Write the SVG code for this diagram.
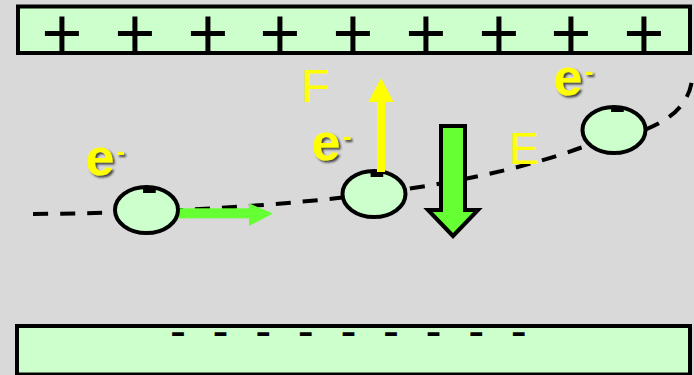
<svg xmlns="http://www.w3.org/2000/svg" width="694" height="375" viewBox="0 0 694 375">
<defs>
<style>
.plate{fill:#ccffcc;stroke:#000;stroke-width:4}
.plus{font-family:"Liberation Sans",Arial,sans-serif;font-size:70px;fill:#000;text-anchor:middle}
.minus{font-family:"Liberation Sans",Arial,sans-serif;font-size:48px;fill:#000;text-anchor:middle}
.el{fill:#ccffcc;stroke:#000;stroke-width:4}
.mark{font-family:"Liberation Sans",Arial,sans-serif;font-size:52px;fill:#000;text-anchor:middle}
.elab{font-family:"Liberation Sans",Arial,sans-serif;font-weight:bold;font-size:52px;fill:#ffff00}
.sup{font-family:"Liberation Sans",Arial,sans-serif;font-weight:bold;font-size:26px;fill:#ffff00;text-anchor:middle}
.big{font-family:"Liberation Sans",Arial,sans-serif;fill:#ffff00}
.traj{fill:none;stroke:#000;stroke-width:4;stroke-dasharray:15 12}
</style>
<filter id="sh" x="-20%" y="-20%" width="150%" height="150%">
<feDropShadow dx="2" dy="2" stdDeviation="1" flood-color="#303030" flood-opacity="0.9"/>
</filter>
</defs>
<rect width="694" height="375" fill="#d9d9d9"/>

<g id="plate-top">
<rect class="plate" x="18" y="6.5" width="672" height="46.5"/>
<text class="plus" x="62" y="57">+</text>
<text class="plus" x="135" y="57">+</text>
<text class="plus" x="208" y="57">+</text>
<text class="plus" x="280" y="57">+</text>
<text class="plus" x="353" y="57">+</text>
<text class="plus" x="426" y="57">+</text>
<text class="plus" x="499" y="57">+</text>
<text class="plus" x="571" y="57">+</text>
<text class="plus" x="644" y="57">+</text>
</g>

<g id="plate-bottom">
<rect class="plate" x="17" y="326" width="673" height="48.5"/>
<text class="minus" x="178" y="347">-</text>
<text class="minus" x="220.6" y="347">-</text>
<text class="minus" x="263.2" y="347">-</text>
<text class="minus" x="305.8" y="347">-</text>
<text class="minus" x="348.4" y="347">-</text>
<text class="minus" x="391" y="347">-</text>
<text class="minus" x="433.6" y="347">-</text>
<text class="minus" x="476.2" y="347">-</text>
<text class="minus" x="518.8" y="347">-</text>
</g>

<g id="connectors">
<path id="trajectory" class="traj" d="M33,214 C250,212 450,195 580,148 C620,136 685,130 692,80"/>
<g id="velocity">
<rect x="170" y="208.3" width="80" height="10" fill="#66ff33"/>
<polygon points="249,203.3 273,213.5 249,226" fill="#66ff33"/>
</g>
</g>

<g id="electron1">
<ellipse class="el" cx="146.5" cy="210" rx="31.5" ry="23"/>
<text class="mark" x="149.5" y="205">-</text>
<text class="elab" x="85.5" y="175" filter="url(#sh)">e</text>
<text class="sup" x="120.5" y="160" filter="url(#sh)">-</text>
</g>

<g id="electron2">
<ellipse class="el" cx="374" cy="194" rx="31.5" ry="23"/>
<text class="mark" x="377" y="189">-</text>
<text class="elab" x="311.5" y="160" filter="url(#sh)">e</text>
<text class="sup" x="347" y="145" filter="url(#sh)">-</text>
</g>

<g id="electron3">
<ellipse class="el" cx="614" cy="130" rx="31.5" ry="23"/>
<text class="mark" x="617.5" y="124">-</text>
<text class="elab" x="553.5" y="95" filter="url(#sh)">e</text>
<text class="sup" x="589" y="80" filter="url(#sh)">-</text>
</g>

<g id="force-F">
<rect x="377" y="100" width="8" height="72" fill="#ffff00"/>
<polygon points="381,78 393.5,102 368.5,102" fill="#ffff00"/>
<text class="big" x="301" y="102" font-size="47">F</text>
</g>

<g id="field-E">
<path d="M441,126 H465 V210 H478 L453,236 L428,210 H441 Z" fill="#66ff33" stroke="#000" stroke-width="4"/>
<text class="big" x="509" y="164" font-size="45">E</text>
</g>
</svg>
